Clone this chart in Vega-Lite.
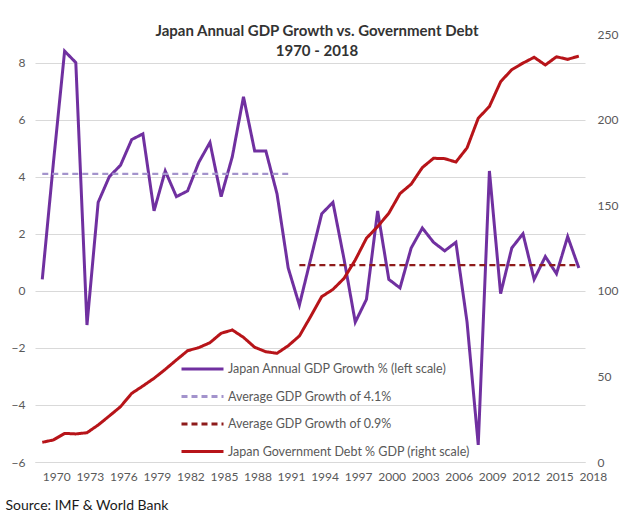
{
  "$schema": "https://vega.github.io/schema/vega-lite/v6.json",
  "autosize": "none",
  "width": 550,
  "height": 428,
  "padding": {"left": 35, "top": 34, "right": 55, "bottom": 57},
  "background": "#ffffff",
  "title": {
    "text": ["Japan Annual GDP Growth vs. Government Debt", "1970 - 2018"],
    "font": "Lato",
    "fontSize": 15,
    "fontWeight": "bold",
    "color": "#333333",
    "anchor": "middle",
    "frame": "group",
    "dx": 7,
    "offset": -31,
    "lineHeight": 20
  },
  "datasets": {
    "rows": [
      {"year": 1970, "k": "gdp", "value": 0.4}, {"year": 1971, "k": "gdp", "value": 4.5},
      {"year": 1972, "k": "gdp", "value": 8.4}, {"year": 1973, "k": "gdp", "value": 8.0},
      {"year": 1974, "k": "gdp", "value": -1.2}, {"year": 1975, "k": "gdp", "value": 3.1},
      {"year": 1976, "k": "gdp", "value": 4.0}, {"year": 1977, "k": "gdp", "value": 4.4},
      {"year": 1978, "k": "gdp", "value": 5.3}, {"year": 1979, "k": "gdp", "value": 5.5},
      {"year": 1980, "k": "gdp", "value": 2.8}, {"year": 1981, "k": "gdp", "value": 4.2},
      {"year": 1982, "k": "gdp", "value": 3.3}, {"year": 1983, "k": "gdp", "value": 3.5},
      {"year": 1984, "k": "gdp", "value": 4.5}, {"year": 1985, "k": "gdp", "value": 5.2},
      {"year": 1986, "k": "gdp", "value": 3.3}, {"year": 1987, "k": "gdp", "value": 4.7},
      {"year": 1988, "k": "gdp", "value": 6.8}, {"year": 1989, "k": "gdp", "value": 4.9},
      {"year": 1990, "k": "gdp", "value": 4.9}, {"year": 1991, "k": "gdp", "value": 3.4},
      {"year": 1992, "k": "gdp", "value": 0.8}, {"year": 1993, "k": "gdp", "value": -0.5},
      {"year": 1994, "k": "gdp", "value": 1.1}, {"year": 1995, "k": "gdp", "value": 2.7},
      {"year": 1996, "k": "gdp", "value": 3.1}, {"year": 1997, "k": "gdp", "value": 1.1},
      {"year": 1998, "k": "gdp", "value": -1.1}, {"year": 1999, "k": "gdp", "value": -0.3},
      {"year": 2000, "k": "gdp", "value": 2.8}, {"year": 2001, "k": "gdp", "value": 0.4},
      {"year": 2002, "k": "gdp", "value": 0.1}, {"year": 2003, "k": "gdp", "value": 1.5},
      {"year": 2004, "k": "gdp", "value": 2.2}, {"year": 2005, "k": "gdp", "value": 1.7},
      {"year": 2006, "k": "gdp", "value": 1.4}, {"year": 2007, "k": "gdp", "value": 1.7},
      {"year": 2008, "k": "gdp", "value": -1.1}, {"year": 2009, "k": "gdp", "value": -5.4},
      {"year": 2010, "k": "gdp", "value": 4.2}, {"year": 2011, "k": "gdp", "value": -0.1},
      {"year": 2012, "k": "gdp", "value": 1.5}, {"year": 2013, "k": "gdp", "value": 2.0},
      {"year": 2014, "k": "gdp", "value": 0.4}, {"year": 2015, "k": "gdp", "value": 1.2},
      {"year": 2016, "k": "gdp", "value": 0.6}, {"year": 2017, "k": "gdp", "value": 1.9},
      {"year": 2018, "k": "gdp", "value": 0.8},
      {"year": 1970, "k": "avg1", "value": 4.1}, {"year": 1992, "k": "avg1", "value": 4.1},
      {"year": 1993, "k": "avg2", "value": 0.9}, {"year": 2018, "k": "avg2", "value": 0.9},
      {"year": 1970, "k": "debt", "value": 11.5}, {"year": 1971, "k": "debt", "value": 12.9},
      {"year": 1972, "k": "debt", "value": 16.7}, {"year": 1973, "k": "debt", "value": 16.4},
      {"year": 1974, "k": "debt", "value": 17.1}, {"year": 1975, "k": "debt", "value": 21.6},
      {"year": 1976, "k": "debt", "value": 26.9}, {"year": 1977, "k": "debt", "value": 32.3},
      {"year": 1978, "k": "debt", "value": 40.1}, {"year": 1979, "k": "debt", "value": 44.4},
      {"year": 1980, "k": "debt", "value": 48.9}, {"year": 1981, "k": "debt", "value": 54.1},
      {"year": 1982, "k": "debt", "value": 59.6}, {"year": 1983, "k": "debt", "value": 65.0},
      {"year": 1984, "k": "debt", "value": 66.8}, {"year": 1985, "k": "debt", "value": 69.7},
      {"year": 1986, "k": "debt", "value": 75.2}, {"year": 1987, "k": "debt", "value": 77.1},
      {"year": 1988, "k": "debt", "value": 72.8}, {"year": 1989, "k": "debt", "value": 67.0},
      {"year": 1990, "k": "debt", "value": 64.4}, {"year": 1991, "k": "debt", "value": 63.5},
      {"year": 1992, "k": "debt", "value": 67.9}, {"year": 1993, "k": "debt", "value": 73.6},
      {"year": 1994, "k": "debt", "value": 84.9}, {"year": 1995, "k": "debt", "value": 96.6},
      {"year": 1996, "k": "debt", "value": 100.8}, {"year": 1997, "k": "debt", "value": 107.3},
      {"year": 1998, "k": "debt", "value": 118.0}, {"year": 1999, "k": "debt", "value": 130.7},
      {"year": 2000, "k": "debt", "value": 137.5}, {"year": 2001, "k": "debt", "value": 145.3},
      {"year": 2002, "k": "debt", "value": 156.8}, {"year": 2003, "k": "debt", "value": 162.3},
      {"year": 2004, "k": "debt", "value": 172.0}, {"year": 2005, "k": "debt", "value": 177.4},
      {"year": 2006, "k": "debt", "value": 177.2}, {"year": 2007, "k": "debt", "value": 175.2},
      {"year": 2008, "k": "debt", "value": 183.5}, {"year": 2009, "k": "debt", "value": 200.8},
      {"year": 2010, "k": "debt", "value": 207.7}, {"year": 2011, "k": "debt", "value": 222.1},
      {"year": 2012, "k": "debt", "value": 229.2}, {"year": 2013, "k": "debt", "value": 233.0},
      {"year": 2014, "k": "debt", "value": 236.4}, {"year": 2015, "k": "debt", "value": 231.9},
      {"year": 2016, "k": "debt", "value": 236.7}, {"year": 2017, "k": "debt", "value": 235.2},
      {"year": 2018, "k": "debt", "value": 237.1}
    ]
  },
  "data": {"name": "rows"},
  "encoding": {
    "x": {
      "field": "year",
      "type": "quantitative",
      "scale": {"domain": [1969.35, 2018.55], "nice": false, "zero": false},
      "axis": {
        "title": "Source: IMF & World Bank",
        "titleX": -30,
        "titleY": 43,
        "titleAlign": "left",
        "titleBaseline": "middle",
        "titleFont": "Lato",
        "titleFontSize": 14,
        "titleFontWeight": "normal",
        "titleColor": "#1a1a1a",
        "values": [1970, 1973, 1976, 1979, 1982, 1985, 1988, 1991, 1994, 1997, 2000, 2003, 2006, 2009, 2012, 2015, 2018],
        "format": "d",
        "labelOffset": 14,
        "labelPadding": 9,
        "grid": false,
        "ticks": false,
        "domainColor": "#d9d9d9",
        "labelFlush": false
      }
    },
    "color": {
      "field": "k",
      "type": "nominal",
      "scale": {
        "domain": ["gdp", "avg1", "avg2", "debt"],
        "range": ["#7030A0", "#A393CC", "#8E1B1B", "#B71419"]
      },
      "legend": {
        "labelExpr": "datum.value == 'gdp' ? 'Japan Annual GDP Growth % (left scale)' : datum.value == 'avg1' ? 'Average GDP Growth of 4.1%' : datum.value == 'avg2' ? 'Average GDP Growth of 0.9%' : 'Japan Government Debt % GDP (right scale)'"
      }
    },
    "strokeDash": {
      "field": "k",
      "type": "nominal",
      "scale": {
        "domain": ["gdp", "avg1", "avg2", "debt"],
        "range": [[1, 0], [6, 4], [6, 4], [1, 0]]
      },
      "legend": {
        "labelExpr": "datum.value == 'gdp' ? 'Japan Annual GDP Growth % (left scale)' : datum.value == 'avg1' ? 'Average GDP Growth of 4.1%' : datum.value == 'avg2' ? 'Average GDP Growth of 0.9%' : 'Japan Government Debt % GDP (right scale)'"
      }
    }
  },
  "layer": [
    {
      "encoding": {
        "y": {
          "field": "value",
          "type": "quantitative",
          "scale": {"domain": [-6, 9], "nice": false, "zero": false},
          "axis": {
            "orient": "left",
            "title": null,
            "values": [-6, -4, -2, 0, 2, 4, 6, 8],
            "grid": true,
            "gridColor": "#d9d9d9",
            "domain": false,
            "ticks": false,
            "labelPadding": 10
          }
        }
      },
      "layer": [
        {
          "transform": [{"filter": "datum.k == 'gdp'"}],
          "mark": {"type": "line", "strokeWidth": 3}
        },
        {
          "transform": [{"filter": "datum.k == 'avg1' || datum.k == 'avg2'"}],
          "mark": {"type": "line", "strokeWidth": 2.2}
        }
      ]
    },
    {
      "transform": [{"filter": "datum.k == 'debt'"}],
      "mark": {"type": "line", "strokeWidth": 3},
      "encoding": {
        "y": {
          "field": "value",
          "type": "quantitative",
          "scale": {"domain": [0, 250], "nice": false},
          "axis": {
            "orient": "right",
            "title": null,
            "values": [0, 50, 100, 150, 200, 250],
            "grid": false,
            "domain": false,
            "ticks": false,
            "labelPadding": 12
          }
        }
      }
    }
  ],
  "resolve": {"scale": {"y": "independent"}},
  "config": {
    "view": {"stroke": null},
    "axis": {
      "labelFont": "Lato",
      "labelFontSize": 12,
      "labelColor": "#595959"
    },
    "legend": {
      "orient": "none",
      "legendX": 145,
      "legendY": 327,
      "title": null,
      "symbolType": "stroke",
      "symbolSize": 1764,
      "symbolStrokeWidth": 3,
      "labelFont": "Lato",
      "labelFontSize": 12.5,
      "labelColor": "#595959",
      "labelOffset": 3,
      "labelLimit": 400,
      "clipHeight": 16,
      "rowPadding": 11.5
    }
  }
}
